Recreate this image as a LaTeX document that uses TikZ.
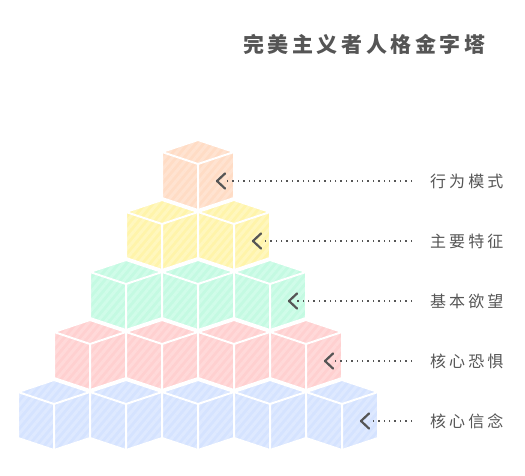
\documentclass[tikz,border=0pt]{standalone}
\usepackage{fontspec}
\setmainfont{Noto Sans CJK SC}
\usetikzlibrary{patterns.meta}
\definecolor{cA}{HTML}{FFDCC5}\definecolor{sA}{HTML}{FFE3D1}
\definecolor{cB}{HTML}{FFF4AA}\definecolor{sB}{HTML}{FFF7BE}
\definecolor{cC}{HTML}{C4FAE2}\definecolor{sC}{HTML}{D0FCE9}
\definecolor{cD}{HTML}{FFD0D0}\definecolor{sD}{HTML}{FFD9D9}
\definecolor{cE}{HTML}{D5E3FF}\definecolor{sE}{HTML}{DEE9FF}
\definecolor{ink}{HTML}{555555}
\newcommand\mycube[4]{% cx, T, base, stripe
  \foreach \fc in {
    {(#1,#2) -- (#1-36,#2+12) -- (#1,#2+24) -- (#1+36,#2+12) -- cycle},
    {(#1-36,#2+12) -- (#1,#2+24) -- (#1,#2+70) -- (#1-36,#2+58) -- cycle},
    {(#1,#2+24) -- (#1+36,#2+12) -- (#1+36,#2+58) -- (#1,#2+70) -- cycle}}{
    \fill[#3] \fc;
    \fill[pattern={Lines[angle=50,distance=6pt,line width=3pt]},pattern color=#4] \fc;
  }
  \draw[edge] (#1,#2) -- (#1-36,#2+12) -- (#1-36,#2+58) -- (#1,#2+70) -- (#1+36,#2+58) -- (#1+36,#2+12) -- cycle;
  \draw[edge] (#1-36,#2+12) -- (#1,#2+24) -- (#1+36,#2+12) (#1,#2+24) -- (#1,#2+70);
}
\begin{document}
\begin{tikzpicture}[x=1pt,y=-1pt,
  edge/.style={white,line width=2pt,line join=round},
  lab/.style={anchor=west,inner sep=0pt,text=ink,font=\fontsize{16}{16}\selectfont\addfontfeature{LetterSpace=19}},
  ttl/.style={anchor=west,inner sep=0pt,text=ink,font=\fontsize{21}{21}\selectfont\bfseries\addfontfeature{LetterSpace=17}},
  dots/.style={ink,line width=1.4pt,dash pattern=on 1.4pt off 4pt,shorten <=18pt},
  chev/.style={ink,line width=2.2pt,line cap=round,line join=round}]
\useasboundingbox (0,0) rectangle (525,475);
\node[ttl] (title) at (243,44) {完美主义者人格金字塔};
% cubes
\foreach \r/\cb/\cs in {0/cA/sA,1/cB/sB,2/cC/sC,3/cD/sD,4/cE/sE}{
  \foreach \i in {0,...,\r}{
    \pgfmathsetmacro\cx{198-36*\r+72*\i}
    \pgfmathsetmacro\ty{140+60*\r}
    \mycube{\cx}{\ty}{\cb}{\cs}
  }
}
% labels and pointers
\foreach \r/\t in {0/行为模式,1/主要特征,2/基本欲望,3/核心恐惧,4/核心信念}{
  \pgfmathsetmacro\tx{217+36*\r}
  \pgfmathsetmacro\yy{181+60*\r}
  \coordinate (tip\r) at (\tx,\yy);
  \node[lab] (lab\r) at (430,\yy) {\t};
  \draw[dots] (lab\r.west) -- ([xshift=8pt]tip\r);
  \draw[chev] ([xshift=8,yshift=-7.5]tip\r) -- (tip\r) -- ([xshift=8,yshift=7.5]tip\r);
}
\end{tikzpicture}
\end{document}
